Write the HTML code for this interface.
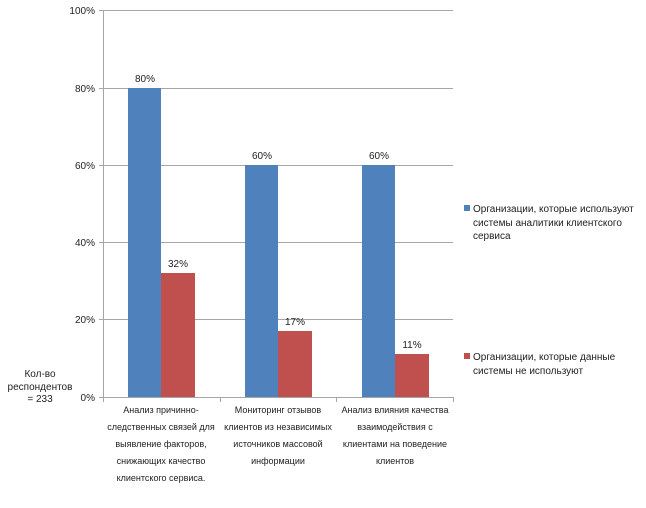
<!DOCTYPE html>
<html><head><meta charset="utf-8"><style>
body{margin:0;background:#fff;}
svg text{font-family:"Liberation Sans","DejaVu Sans",sans-serif;fill:#222;}
</style></head><body>
<svg width="646" height="503" xmlns="http://www.w3.org/2000/svg">
<g stroke="#a6a6a6" stroke-width="1">
<line x1="99" y1="10.5" x2="453" y2="10.5"/>
<line x1="99" y1="88.5" x2="453" y2="88.5"/>
<line x1="99" y1="165.5" x2="453" y2="165.5"/>
<line x1="99" y1="242.5" x2="453" y2="242.5"/>
<line x1="99" y1="319.5" x2="453" y2="319.5"/>
<line x1="99" y1="397.5" x2="453" y2="397.5"/>
<line x1="103.5" y1="10" x2="103.5" y2="397"/>
<line x1="103.5" y1="397" x2="103.5" y2="402"/>
<line x1="220.5" y1="397" x2="220.5" y2="402"/>
<line x1="336.5" y1="397" x2="336.5" y2="402"/>
<line x1="453.5" y1="397" x2="453.5" y2="402"/>
</g>
<g fill="#4f81bd">
<rect x="128" y="88" width="33" height="309"/>
<rect x="245" y="165" width="33" height="232"/>
<rect x="362" y="165" width="33" height="232"/>
</g>
<g fill="#c0504d">
<rect x="161" y="273" width="34" height="124"/>
<rect x="278" y="331" width="34" height="66"/>
<rect x="395" y="354" width="34" height="43"/>
</g>
<g font-size="10" text-anchor="end">
<text x="95" y="14">100%</text>
<text x="95" y="92">80%</text>
<text x="95" y="169">60%</text>
<text x="95" y="246">40%</text>
<text x="95" y="323">20%</text>
<text x="95" y="401">0%</text>
</g>
<g font-size="10" text-anchor="middle">
<text x="145" y="82">80%</text>
<text x="262" y="159">60%</text>
<text x="379" y="159">60%</text>
<text x="178" y="267">32%</text>
<text x="295" y="325">17%</text>
<text x="412" y="348">11%</text>
<text x="40" y="377">Кол-во</text>
<text x="40" y="390">респондентов</text>
<text x="40" y="402">= 233</text>
</g>
<g font-size="9" text-anchor="middle">
<text x="161" y="413">Анализ причинно-</text>
<text x="161" y="430">следственных связей для</text>
<text x="161" y="447">выявление факторов,</text>
<text x="161" y="464">снижающих качество</text>
<text x="161" y="481">клиентского сервиса.</text>
<text x="278" y="413">Мониторинг  отзывов</text>
<text x="278" y="430">клиентов из независимых</text>
<text x="278" y="447">источников массовой</text>
<text x="278" y="464">информации</text>
<text x="395" y="413">Анализ влияния качества</text>
<text x="395" y="430">взаимодействия с</text>
<text x="395" y="447">клиентами на поведение</text>
<text x="395" y="464">клиентов</text>
</g>
<rect x="464" y="205" width="6" height="6" fill="#4f81bd"/>
<rect x="464" y="353" width="6" height="6" fill="#c0504d"/>
<g font-size="10">
<text x="473" y="212">Организации, которые используют</text>
<text x="473" y="226">системы аналитики клиентского</text>
<text x="473" y="239">сервиса</text>
<text x="473" y="360">Организации, которые данные</text>
<text x="473" y="374">системы не используют</text>
</g>
</svg>
</body></html>
